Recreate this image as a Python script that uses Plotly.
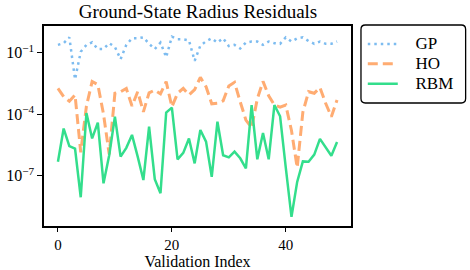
import plotly.graph_objects as go

index = list(range(50))

gp = [0.24, 0.29, 0.56, 0.005, 0.11, 0.24, 0.32, 0.15, 0.15, 0.29,
      0.19, 0.048, 0.24, 0.50, 0.50, 0.56, 0.27, 0.15, 0.31, 0.06,
      0.60, 0.45, 0.45, 0.40, 0.04, 0.22, 0.36, 0.50, 0.31, 0.50,
      0.21, 0.24, 0.16, 0.31, 0.35, 0.35, 0.24, 0.35, 0.29, 0.27,
      0.56, 0.35, 0.50, 0.56, 0.37, 0.27, 0.35, 0.27, 0.27, 0.35]

ho = [1.8e-3, 7.1e-4, 4.3e-4, 8.7e-4, 1.4e-6, 2.5e-4, 3.9e-3, 2.8e-3, 1.0e-4, 1.1e-6,
      1.05e-3, 1.25e-3, 1.8e-3, 2.5e-4, 1.25e-3, 1.3e-4, 1.1e-3, 1.5e-3, 9.8e-4, 3.9e-3,
      2.3e-4, 1.05e-3, 1.8e-3, 8.7e-4, 1.6e-3, 6.3e-3, 2.2e-3, 3.2e-4, 3.4e-4, 4.5e-4,
      2.4e-3, 3.6e-3, 4.0e-4, 5.2e-5, 2.2e-5, 5.6e-4, 4.0e-3, 7.9e-4, 2.8e-4, 2.2e-4,
      2.8e-4, 1.6e-5, 2.5e-7, 1.26e-4, 1.25e-3, 1.05e-3, 2.0e-3, 3.4e-4, 7.6e-5, 4.9e-4]

rbm = [4.8e-7, 2.0e-5, 2.8e-6, 2.1e-6, 8.9e-9, 1.15e-4, 6.6e-6, 3.9e-5, 4.3e-8, 1.0e-6,
       7.6e-5, 8.5e-7, 2.3e-6, 9.8e-6, 8.5e-7, 6.2e-8, 2.5e-5, 6.8e-8, 1.4e-8, 1.2e-4,
       2.1e-4, 6.3e-7, 1.3e-6, 6.6e-6, 4.0e-7, 1.7e-5, 4.6e-6, 8.9e-8, 4.3e-5, 1.0e-6,
       7.9e-7, 1.5e-6, 7.1e-7, 2.3e-7, 2.8e-4, 6.3e-7, 1.2e-5, 6.3e-7, 2.8e-4, 7.9e-5,
       2.5e-7, 1.0e-9, 5.0e-8, 5.0e-7, 4.8e-7, 1.07e-6, 6.3e-6, 2.6e-6, 9.5e-7, 4.4e-6]

series_names = ["GP", "HO", "RBM"]
ytick_vals = [1e-1, 1e-4, 1e-7]
ytick_text = ["10<sup>−1</sup>", "10<sup>−4</sup>", "10<sup>−7</sup>"]
xtick_vals = [0, 20, 40]

SERIF = "Liberation Serif"

def legend_label(s):
    return f'<span style="font-size:17px">&nbsp;&nbsp;&nbsp;{s}</span>'

fig = go.Figure()
fig.add_trace(go.Scatter(x=index, y=gp, mode="lines", name=legend_label(series_names[0]),
                         line=dict(color="#7dbcf0", width=2.5, dash="2.5px,4px")))
fig.add_trace(go.Scatter(x=index, y=ho, mode="lines", name=legend_label(series_names[1]),
                         line=dict(color="#ffac72", width=3, dash="10px,5px")))
fig.add_trace(go.Scatter(x=index, y=rbm, mode="lines", name=legend_label(series_names[2]),
                         line=dict(color="#33de8c", width=2.5)))

# rounded legend frame (paper coords)
x0, x1, yt, yb = 1.0325, 1.3734, 1.005, 0.615
rx, ry = 0.014, 0.022
path = (f"M {x0+rx},{yt} L {x1-rx},{yt} Q {x1},{yt} {x1},{yt-ry} "
        f"L {x1},{yb+ry} Q {x1},{yb} {x1-rx},{yb} L {x0+rx},{yb} "
        f"Q {x0},{yb} {x0},{yb+ry} L {x0},{yt-ry} Q {x0},{yt} {x0+rx},{yt} Z")

fig.update_layout(
    width=470, height=270,
    margin=dict(l=44, r=118, t=26, b=44),
    paper_bgcolor="white", plot_bgcolor="white",
    font=dict(family=SERIF, color="black", size=16),
    title=dict(text="Ground-State Radius Residuals", x=198 / 470,
               xanchor="center", y=1 - 11 / 270, yanchor="middle",
               font=dict(family=SERIF, size=19)),
    showlegend=True,
    legend=dict(x=1.035, y=0.985, xanchor="left", yanchor="top",
                bgcolor="rgba(0,0,0,0)", borderwidth=0,
                font=dict(family=SERIF, size=13), tracegroupgap=0),
    shapes=[dict(type="path", path=path, xref="paper", yref="paper",
                 line=dict(color="black", width=1.3), fillcolor="rgba(0,0,0,0)")],
    xaxis=dict(range=[-2.45, 51.45], tickvals=xtick_vals, ticks="outside",
               ticklen=4, tickwidth=1.3, tickcolor="black",
               showline=True, linecolor="black", linewidth=1.5, mirror=True,
               showgrid=False, zeroline=False, automargin=False,
               title=dict(text="Validation Index", font=dict(family=SERIF, size=16), standoff=9),
               tickfont=dict(family=SERIF, size=15)),
    yaxis=dict(type="log", range=[-9.45, 0.30], tickvals=ytick_vals, ticktext=ytick_text,
               ticks="outside", ticklen=5, tickwidth=1.3, tickcolor="black",
               showline=True, linecolor="black", linewidth=1.5, mirror=True,
               showgrid=False, zeroline=False, automargin=False,
               tickfont=dict(family=SERIF, size=16)),
)

fig.write_html("out.html",
               config={"displayModeBar": False},
               post_script="document.body.style.margin='0';document.body.style.overflow='hidden';")
